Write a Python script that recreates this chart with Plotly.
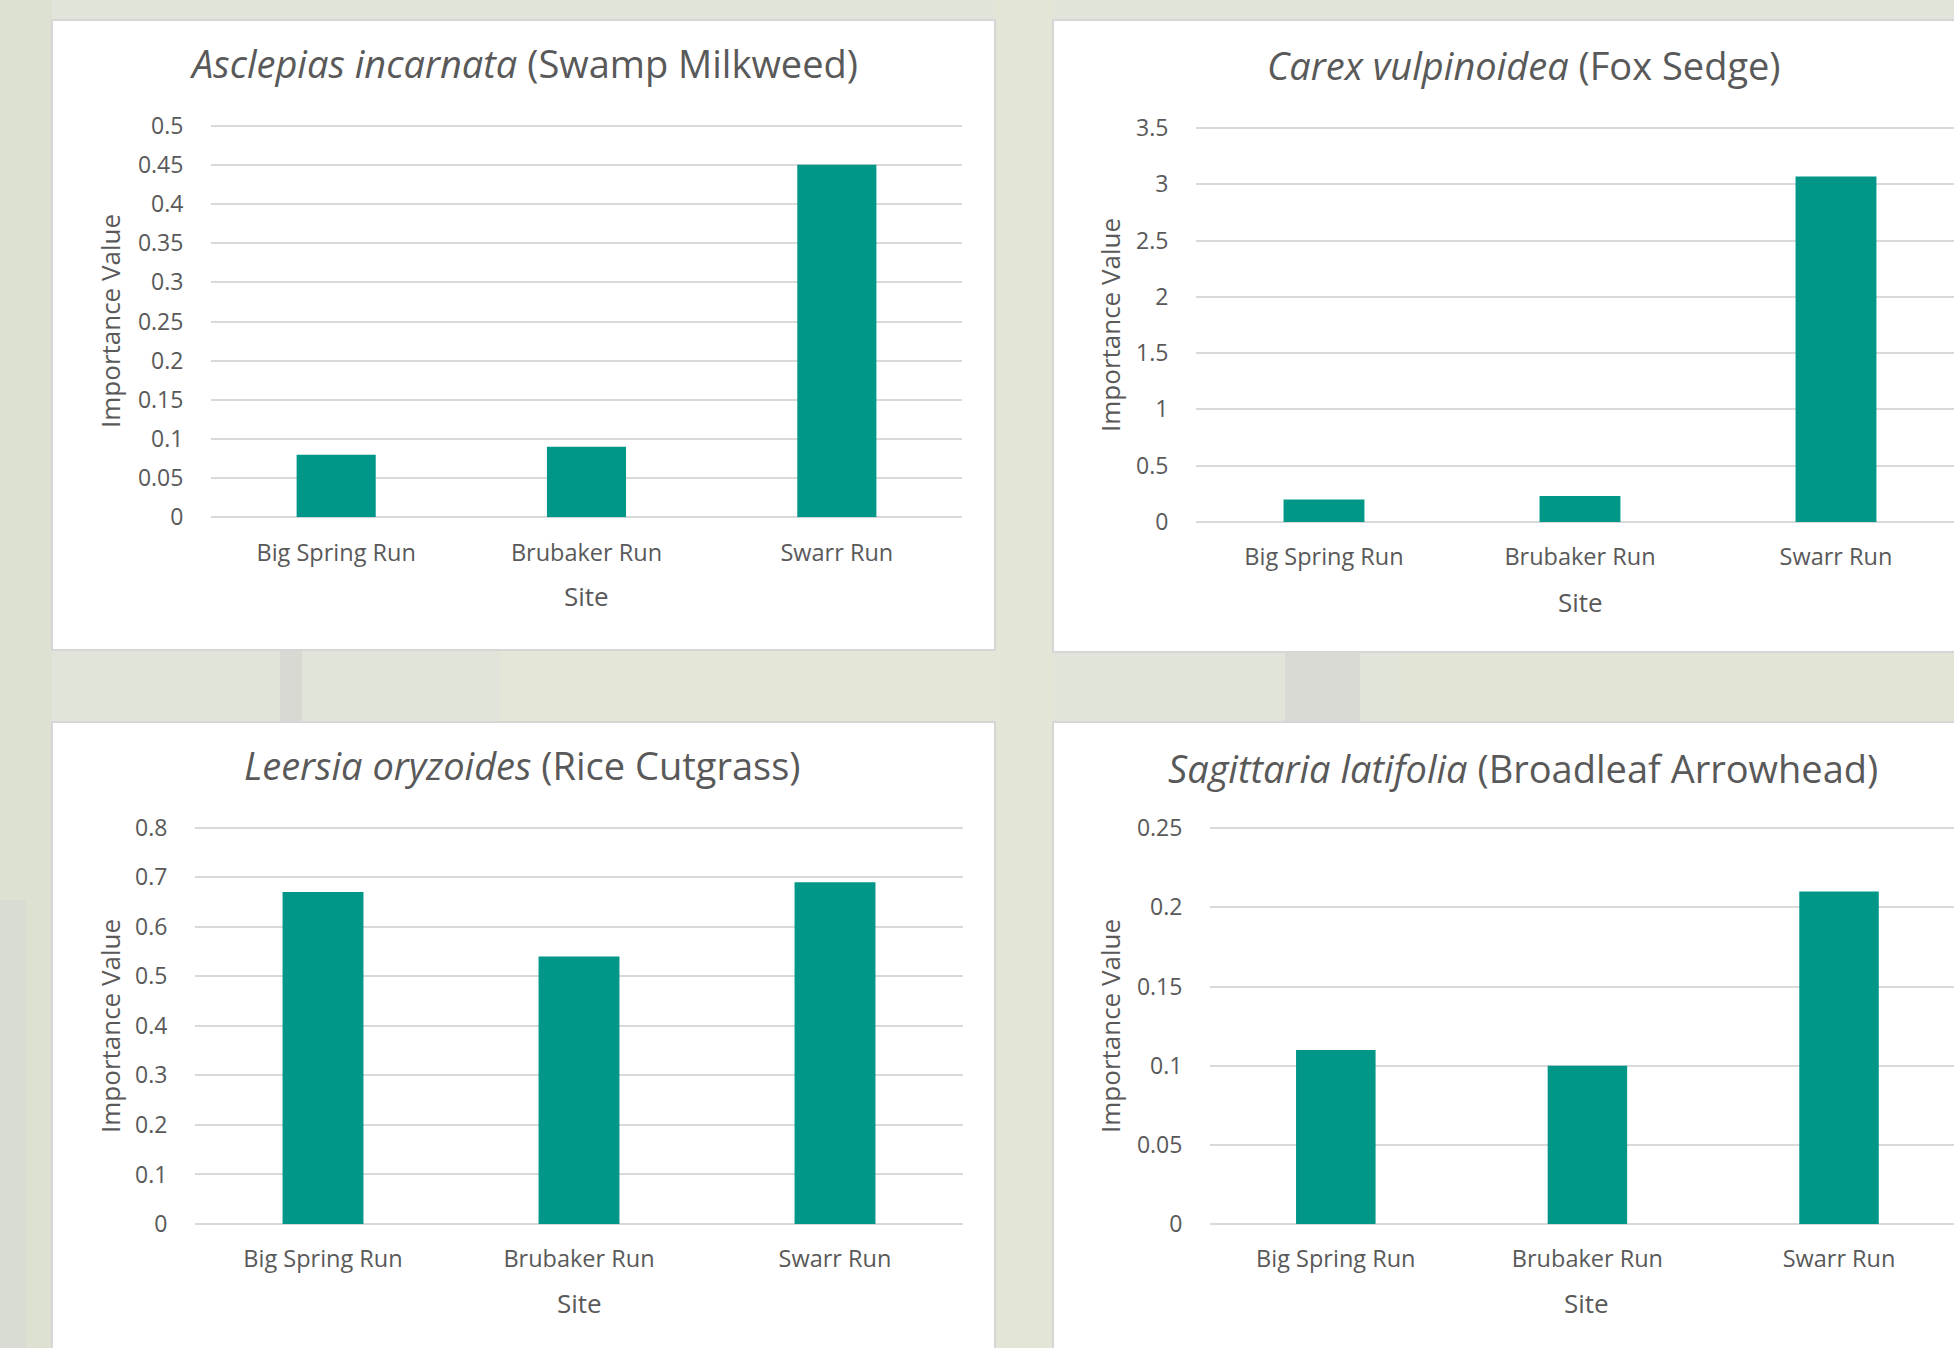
import plotly.graph_objects as go

# ---------------- data ----------------
sites = ["Big Spring Run", "Brubaker Run", "Swarr Run"]

swamp_milkweed = [0.08, 0.09, 0.45]
fox_sedge = [0.20, 0.23, 3.07]
rice_cutgrass = [0.67, 0.54, 0.69]
broadleaf_arrowhead = [0.11, 0.10, 0.21]

titles = [
    "<i>Asclepias incarnata</i> (Swamp Milkweed)",
    "<i>Carex vulpinoidea</i> (Fox Sedge)",
    "<i>Leersia oryzoides</i> (Rice Cutgrass)",
    "<i>Sagittaria latifolia</i> (Broadleaf Arrowhead)",
]

ticks1 = [0, 0.05, 0.1, 0.15, 0.2, 0.25, 0.3, 0.35, 0.4, 0.45, 0.5]
labels1 = ["0", "0.05", "0.1", "0.15", "0.2", "0.25", "0.3", "0.35", "0.4", "0.45", "0.5"]
ticks2 = [0, 0.5, 1, 1.5, 2, 2.5, 3, 3.5]
labels2 = ["0", "0.5", "1", "1.5", "2", "2.5", "3", "3.5"]
ticks3 = [0, 0.1, 0.2, 0.3, 0.4, 0.5, 0.6, 0.7, 0.8]
labels3 = ["0", "0.1", "0.2", "0.3", "0.4", "0.5", "0.6", "0.7", "0.8"]
ticks4 = [0, 0.05, 0.1, 0.15, 0.2, 0.25]
labels4 = ["0", "0.05", "0.1", "0.15", "0.2", "0.25"]

y_title = "Importance Value"
x_title = "Site"

series = [swamp_milkweed, fox_sedge, rice_cutgrass, broadleaf_arrowhead]
tick_sets = [(ticks1, labels1), (ticks2, labels2), (ticks3, labels3), (ticks4, labels4)]

# ---------------- geometry (pixels) ----------------
W, H = 1954, 1348


def fx(px):
    return px / W


def fy(py):
    return 1 - py / H


# plot areas: left, right, top, bottom, x-range end
plots = [
    (211, 962, 125.7, 517.3, 2.5),
    (1196, 1954, 128, 522, 2.461),
    (195, 963, 827.7, 1224, 2.5),
    (1210, 1954, 828.3, 1224, 2.457),
]
# white panels: x0, x1, y0, y1
panels = [
    (52, 995, 20, 650),
    (1053, 1970, 20, 652),
    (52, 995, 722, 1360),
    (1053, 1970, 722, 1360),
]
title_pos = [(523, 63), (1524, 65), (522, 765), (1523, 768)]
ytitle_pos = [(110, 321), (1110, 325), (110, 1026), (1110, 1026)]
xtitle_pos = [(586, 596), (1580, 602), (579, 1303), (1586, 1303)]

TEXT = "#595959"
GRID = "#d9d9d9"
BAR = "#009688"
FONT = "'Open Sans', Lato, sans-serif"
PAD = 0.004  # tiny headroom so the top gridline is drawn

fig = go.Figure()
layout = dict(
    width=W,
    height=H,
    autosize=False,
    margin=dict(l=0, r=0, t=0, b=0, pad=0, autoexpand=False),
    paper_bgcolor="#e1e4d8",
    plot_bgcolor="white",
    showlegend=False,
    bargap=0.684,
    font=dict(family=FONT, color=TEXT),
)

shapes = []
# subtle background texture strips
bg_strips = [
    (0, 52, 0, 1348, "#dde1d2"),
    (0, 26, 900, 1348, "#d9dcd2"),
    (280, 302, 650, 722, "#d8d9d3"),
    (995, 1053, 0, 1348, "#e3e6d6"),
    (1285, 1360, 650, 722, "#d9dad4"),
    (500, 1000, 650, 722, "#e4e7d8"),
    (1400, 1954, 650, 722, "#e2e5d6"),
]
for x0, x1, y0, y1, c in bg_strips:
    shapes.append(dict(type="rect", xref="paper", yref="paper",
                       x0=fx(x0), x1=fx(x1), y0=fy(y0), y1=fy(y1),
                       fillcolor=c, line=dict(width=0), layer="below"))
for x0, x1, y0, y1 in panels:
    shapes.append(dict(type="rect", xref="paper", yref="paper",
                       x0=fx(x0), x1=fx(x1), y0=fy(y0), y1=fy(y1),
                       fillcolor="white", line=dict(color="#d6d6d6", width=2),
                       layer="below"))

annotations = []
for i, (vals, (tv, tt), (l, r, t, b, xend)) in enumerate(zip(series, tick_sets, plots)):
    n = "" if i == 0 else str(i + 1)
    fig.add_trace(go.Bar(x=sites, y=vals, xaxis="x" + n, yaxis="y" + n,
                         marker=dict(color=BAR, line=dict(width=0))))
    layout["xaxis" + n] = dict(
        domain=[fx(l), fx(r)], anchor="y" + n, range=[-0.5, xend],
        showgrid=False, showline=False, zeroline=False, automargin=False,
        ticks="outside", ticklen=14, tickcolor="rgba(0,0,0,0)",
        tickfont=dict(family=FONT, size=23.5, color=TEXT), fixedrange=True,
    )
    top = t - (b - t) * PAD
    layout["yaxis" + n] = dict(
        domain=[fy(b), fy(top)], anchor="x" + n, range=[0, tv[-1] * (1 + PAD)],
        tickvals=tv, ticktext=tt, showgrid=True, gridcolor=GRID, gridwidth=2,
        zeroline=True, zerolinecolor=GRID, zerolinewidth=2, showline=False,
        automargin=False,
        ticks="outside", ticklen=22, tickcolor="rgba(0,0,0,0)",
        tickfont=dict(family=FONT, size=23, color=TEXT), fixedrange=True,
    )
    tx, ty = title_pos[i]
    annotations.append(dict(text=titles[i], xref="paper", yref="paper",
                            x=fx(tx), y=fy(ty), xanchor="center", yanchor="middle",
                            showarrow=False, font=dict(family=FONT, size=38, color=TEXT)))
    ax, ay = ytitle_pos[i]
    annotations.append(dict(text=y_title, xref="paper", yref="paper",
                            x=fx(ax), y=fy(ay), xanchor="center", yanchor="middle",
                            textangle=-90, showarrow=False,
                            font=dict(family=FONT, size=26, color=TEXT)))
    sx, sy = xtitle_pos[i]
    annotations.append(dict(text=x_title, xref="paper", yref="paper",
                            x=fx(sx), y=fy(sy), xanchor="center", yanchor="middle",
                            showarrow=False, font=dict(family=FONT, size=26, color=TEXT)))

layout["shapes"] = shapes
layout["annotations"] = annotations
fig.update_layout(**layout)
fig.write_html("out.html")
